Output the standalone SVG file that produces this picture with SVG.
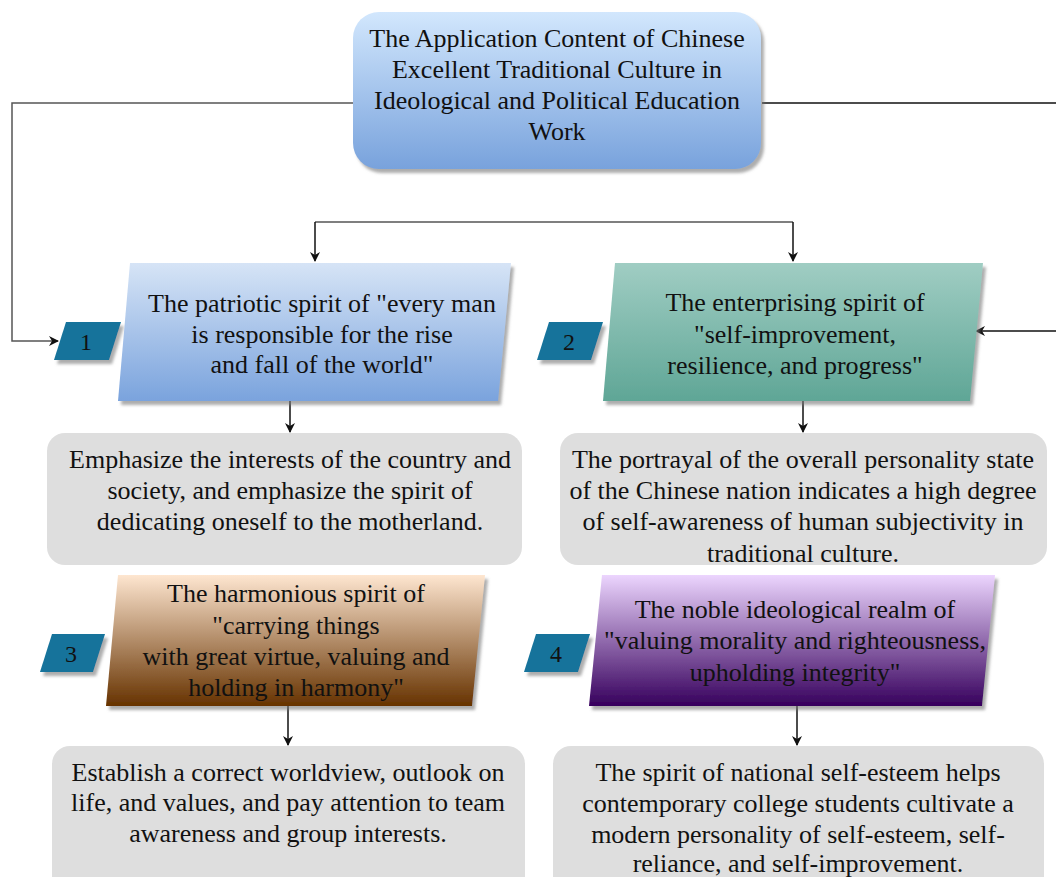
<svg xmlns="http://www.w3.org/2000/svg" width="1056" height="877" viewBox="0 0 1056 877" font-family="Liberation Serif, Times New Roman, serif">
<defs>
<style>
text{font-size:26px;fill:#111;text-anchor:middle;dominant-baseline:central}
.num{font-size:24px}
.desc{fill:#dedede}
.badge{fill:#14739b}
.ln{fill:none;stroke:#555;stroke-width:1.5}
.lnb{fill:none;stroke:#111;stroke-width:1.5}
</style>
<linearGradient id="gTop" x1="0" y1="0" x2="0" y2="1"><stop offset="0" stop-color="#d2e7fd"/><stop offset="1" stop-color="#78a2dc"/></linearGradient>
<linearGradient id="g1" x1="0" y1="0" x2="0" y2="1"><stop offset="0" stop-color="#d6e4f6"/><stop offset="1" stop-color="#7aa3dd"/></linearGradient>
<linearGradient id="g2" x1="0" y1="0" x2="0" y2="1"><stop offset="0" stop-color="#a0cdc3"/><stop offset="1" stop-color="#5fa696"/></linearGradient>
<linearGradient id="g3" x1="0" y1="0" x2="0" y2="1"><stop offset="0" stop-color="#fee6d0"/><stop offset="1" stop-color="#663200"/></linearGradient>
<linearGradient id="g4" x1="0" y1="0" x2="0" y2="1"><stop offset="0" stop-color="#ecd5fe"/><stop offset="1" stop-color="#36005c"/></linearGradient>
<filter id="sh" x="-10%" y="-10%" width="125%" height="130%"><feDropShadow dx="3" dy="4" stdDeviation="1.5" flood-color="#777" flood-opacity="0.6"/></filter>
<marker id="ar" markerWidth="10" markerHeight="10" refX="9" refY="5" orient="auto" markerUnits="userSpaceOnUse"><path d="M0,0 L10,5 L0,10 L3,5 Z" fill="#111"/></marker>
</defs>
<rect width="1056" height="877" fill="#fff"/>

<g id="connectors">
<path class="ln" d="M353,103 H12 V341 H58" marker-end="url(#ar)"/>
<path class="lnb" d="M762,103 H1056"/>
<path class="lnb" d="M1056,331 H976" marker-end="url(#ar)"/>
<path class="ln" d="M315,222 H793"/>
<path class="lnb" d="M315,222 V261" marker-end="url(#ar)"/>
<path class="lnb" d="M793,222 V261" marker-end="url(#ar)"/>
<path class="lnb" d="M290,401 V432" marker-end="url(#ar)"/>
<path class="lnb" d="M803,401 V432" marker-end="url(#ar)"/>
<path class="lnb" d="M288,706 V745" marker-end="url(#ar)"/>
<path class="lnb" d="M797,706 V745" marker-end="url(#ar)"/>
</g>

<g id="top">
<rect x="353" y="12" width="408" height="157" rx="26" fill="url(#gTop)" filter="url(#sh)"/>
<text x="557" y="38">The Application Content of Chinese</text>
<text x="557" y="69">Excellent Traditional Culture in</text>
<text x="557" y="100">Ideological and Political Education</text>
<text x="557" y="131">Work</text>
</g>

<g id="badge1">
<polygon class="badge" points="66,322 121,322 109,360 54,360" filter="url(#sh)"/>
<text class="num" x="86" y="342">1</text>
</g>
<g id="node1">
<polygon points="130,263 511,263 498,401 118,401" fill="url(#g1)" filter="url(#sh)"/>
<text x="322" y="303">The patriotic spirit of "every man</text>
<text x="322" y="334">is responsible for the rise</text>
<text x="322" y="364">and fall of the world"</text>
</g>

<g id="badge2">
<polygon class="badge" points="549,322 603,322 591,360 537,360" filter="url(#sh)"/>
<text class="num" x="569" y="342">2</text>
</g>
<g id="node2">
<polygon points="615,263 983,263 970,401 603,401" fill="url(#g2)" filter="url(#sh)"/>
<text x="795" y="302">The enterprising spirit of</text>
<text x="795" y="334">"self-improvement,</text>
<text x="795" y="365">resilience, and progress"</text>
</g>

<g id="desc1">
<rect class="desc" x="47" y="433" width="475" height="132" rx="18"/>
<text x="290" y="459">Emphasize the interests of the country and</text>
<text x="290" y="490">society, and emphasize the spirit of</text>
<text x="290" y="521">dedicating oneself to the motherland.</text>
</g>

<g id="desc2">
<rect class="desc" x="560" y="433" width="487" height="132" rx="18"/>
<text x="803" y="459">The portrayal of the overall personality state</text>
<text x="803" y="490">of the Chinese nation indicates a high degree</text>
<text x="803" y="521">of self-awareness of human subjectivity in</text>
<text x="803" y="553">traditional culture.</text>
</g>

<g id="badge3">
<polygon class="badge" points="52,634 105,634 93,672 40,672" filter="url(#sh)"/>
<text class="num" x="71" y="654">3</text>
</g>
<g id="node3">
<polygon points="118,575 485,575 472,706 106,706" fill="url(#g3)" filter="url(#sh)"/>
<text x="296" y="593">The harmonious spirit of</text>
<text x="296" y="625">"carrying things</text>
<text x="296" y="656">with great virtue, valuing and</text>
<text x="296" y="687">holding in harmony"</text>
</g>

<g id="badge4">
<polygon class="badge" points="536,634 590,634 578,672 524,672" filter="url(#sh)"/>
<text class="num" x="556" y="654">4</text>
</g>
<g id="node4">
<polygon points="602,575 995,575 982,706 589,706" fill="url(#g4)" filter="url(#sh)"/>
<text x="795" y="609">The noble ideological realm of</text>
<text x="795" y="640">"valuing morality and righteousness,</text>
<text x="795" y="672">upholding integrity"</text>
</g>

<g id="desc3">
<rect class="desc" x="52" y="746" width="473" height="150" rx="18"/>
<text x="288" y="772">Establish a correct worldview, outlook on</text>
<text x="288" y="802">life, and values, and pay attention to team</text>
<text x="288" y="833">awareness and group interests.</text>
</g>

<g id="desc4">
<rect class="desc" x="553" y="746" width="491" height="150" rx="18"/>
<text x="798" y="772">The spirit of national self-esteem helps</text>
<text x="798" y="803">contemporary college students cultivate a</text>
<text x="798" y="834">modern personality of self-esteem, self-</text>
<text x="798" y="863">reliance, and self-improvement.</text>
</g>
</svg>
